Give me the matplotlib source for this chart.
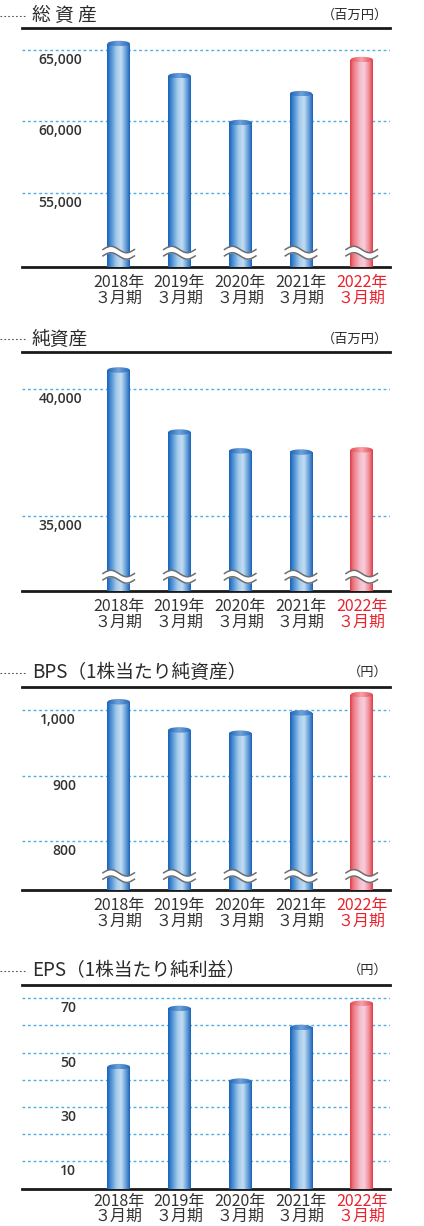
import numpy as np
import matplotlib
matplotlib.use('Agg')
import matplotlib.pyplot as plt
from matplotlib.colors import LinearSegmentedColormap
from matplotlib.patches import Ellipse
from matplotlib.lines import Line2D
from matplotlib.transforms import ScaledTranslation

plt.rcParams['font.family'] = ['Noto Sans CJK JP', 'DejaVu Sans']

# data
years = ['2018年', '2019年', '2020年', '2021年', '2022年']
period = '３月期'

total_assets = [65450, 63200, 59930, 61950, 64330]   # 百万円
net_assets = [40750, 38300, 37560, 37510, 37600]     # 百万円
bps = [1013, 970, 965, 996, 1024]                    # 円
eps = [44.8, 66.2, 39.5, 59.2, 68.1]                 # 円

W, H = 424, 1226
fig = plt.figure(figsize=(W / 100, H / 100), dpi=100)

RED = '#e8232e'
TXT = '#2b2b2b'
X_LEFT, X_RIGHT = 22, 390
STEP = 60.75      # px between bars
X0 = 118.7        # px centre of first bar
BAR_W = 0.37

blue_body = LinearSegmentedColormap.from_list('bb', [
    (0, '#1860b5'), (0.12, '#3a82cd'), (0.42, '#a6cbec'), (0.62, '#c3ddf3'),
    (0.85, '#5c97d5'), (1, '#1860b5')])
red_body = LinearSegmentedColormap.from_list('rb', [
    (0, '#dc3a40'), (0.14, '#ec7580'), (0.45, '#f5bfcd'), (0.62, '#f8cddb'),
    (0.85, '#ee8590'), (1, '#dc3a40')])
blue_cap = LinearSegmentedColormap.from_list('bc', [
    (0, '#1f63b6'), (0.5, '#6fa2da'), (1, '#2668b9')])
red_cap = LinearSegmentedColormap.from_list('rc', [
    (0, '#e2474e'), (0.5, '#f7a3ab'), (1, '#e2474e')])


def panel(values, title, unit, top, bottom, ylim, grid, ticks, title_y, label_right,
          breaks=True, pad=5, spacing=0.92):
    ax = fig.add_axes([X_LEFT / W, 1 - bottom / H, (X_RIGHT - X_LEFT) / W, (bottom - top) / H])
    ymin, ymax = ylim
    xmin = -(X0 - X_LEFT) / STEP
    xmax = xmin + (X_RIGHT - X_LEFT) / STEP
    ypp = (ymax - ymin) / (bottom - top)
    xpp = 1 / STEP

    for s in ['left', 'right']:
        ax.spines[s].set_visible(False)
    for s in ['top', 'bottom']:
        ax.spines[s].set_linewidth(2)
        ax.spines[s].set_color('#1a1a1a')
    ax.set_yticks([])

    for g in grid:
        ax.axhline(g, color='#4aaee3', lw=1, ls=(0, (2, 2)), zorder=1)

    x = np.arange(len(values))
    bars = ax.bar(x, np.array(values) - ymin, bottom=ymin, width=BAR_W, color='none', zorder=2)
    grad = np.linspace(0, 1, 256).reshape(1, -1)
    cap_h = 5.5 * ypp
    for i, (rect, v) in enumerate(zip(bars, values)):
        red = i == len(values) - 1
        x0 = rect.get_x()
        x1 = x0 + rect.get_width()
        im = ax.imshow(grad, cmap=red_body if red else blue_body, extent=[x0, x1, ymin, v],
                       aspect='auto', zorder=3, interpolation='bilinear')
        im.set_clip_path(rect)
        ell = Ellipse((x[i], v), BAR_W, cap_h, facecolor='none', edgecolor='none')
        ax.add_patch(ell)
        im2 = ax.imshow(grad, cmap=red_cap if red else blue_cap,
                        extent=[x0, x1, v - cap_h / 2, v + cap_h / 2],
                        aspect='auto', zorder=4, interpolation='bilinear')
        im2.set_clip_path(ell)
        if breaks:
            t = np.linspace(0, 1, 80)
            wx = x[i] + (t - 0.5) * (BAR_W + 9 * xpp)
            yc = ymin + 14 * ypp
            wy = yc + 3.2 * ypp * np.sin(2 * np.pi * t)
            ax.fill_between(wx, wy - 3.2 * ypp, wy + 3.2 * ypp, color='white', lw=0, zorder=5)
            ax.plot(wx, wy + 3.2 * ypp, color='#6e6e6e', lw=1.1, zorder=6)
            ax.plot(wx, wy - 3.2 * ypp, color='#6e6e6e', lw=1.1, zorder=6)

    off = ScaledTranslation(0, -0.10, fig.dpi_scale_trans)
    lx = (label_right - X_LEFT) / (X_RIGHT - X_LEFT)
    for tk in ticks:
        ax.text(lx, tk, f'{tk:,}', transform=ax.get_yaxis_transform() + off,
                ha='right', va='center', fontsize=10, color='#333333',
                family=['Open Sans', 'DejaVu Sans'], fontweight='semibold')

    ax.set_xticks(x, [f'{y}\n{period}' for y in years])
    ax.tick_params(axis='x', length=0, pad=pad, labelsize=11.5, labelcolor='#333333')
    for lab in ax.get_xticklabels():
        lab.set_linespacing(spacing)
    ax.get_xticklabels()[-1].set_color(RED)

    ax.set_xlim(xmin, xmax)
    ax.set_ylim(ymin, ymax)

    ty = 1 - title_y / H
    fig.text(32 / W, ty, title, fontsize=13.5, ha='left', va='center', color=TXT)
    fig.text(388 / W, ty, unit, fontsize=9.5, ha='right', va='center', color=TXT)
    fig.add_artist(Line2D([0, 25 / W], [ty, ty], transform=fig.transFigure,
                          color='#555555', lw=0.8, ls=(0, (1.5, 2))))
    return ax


panel(total_assets, '総 資 産', '（百万円）', 27.5, 266.7, (49850, 66570),
      [55000, 60000, 65000], [55000, 60000, 65000], 15.5, 82)
panel(net_assets, '純資産', '（百万円）', 352, 590.7, (32040, 41460),
      [35000, 40000], [35000, 40000], 339, 82)
panel(bps, 'BPS（1株当たり純資産）', '（円）', 686.7, 890, (725.6, 1036),
      [800, 900, 1000], [800, 900, 1000], 672.7, 76)
panel(eps, 'EPS（1株当たり純利益）', '（円）', 984.7, 1188.7, (0, 74.9),
      [10, 20, 30, 40, 50, 60, 70], [10, 30, 50, 70], 970.7, 76,
      breaks=False, pad=3, spacing=0.85)

fig.savefig('out.png', dpi=100)
